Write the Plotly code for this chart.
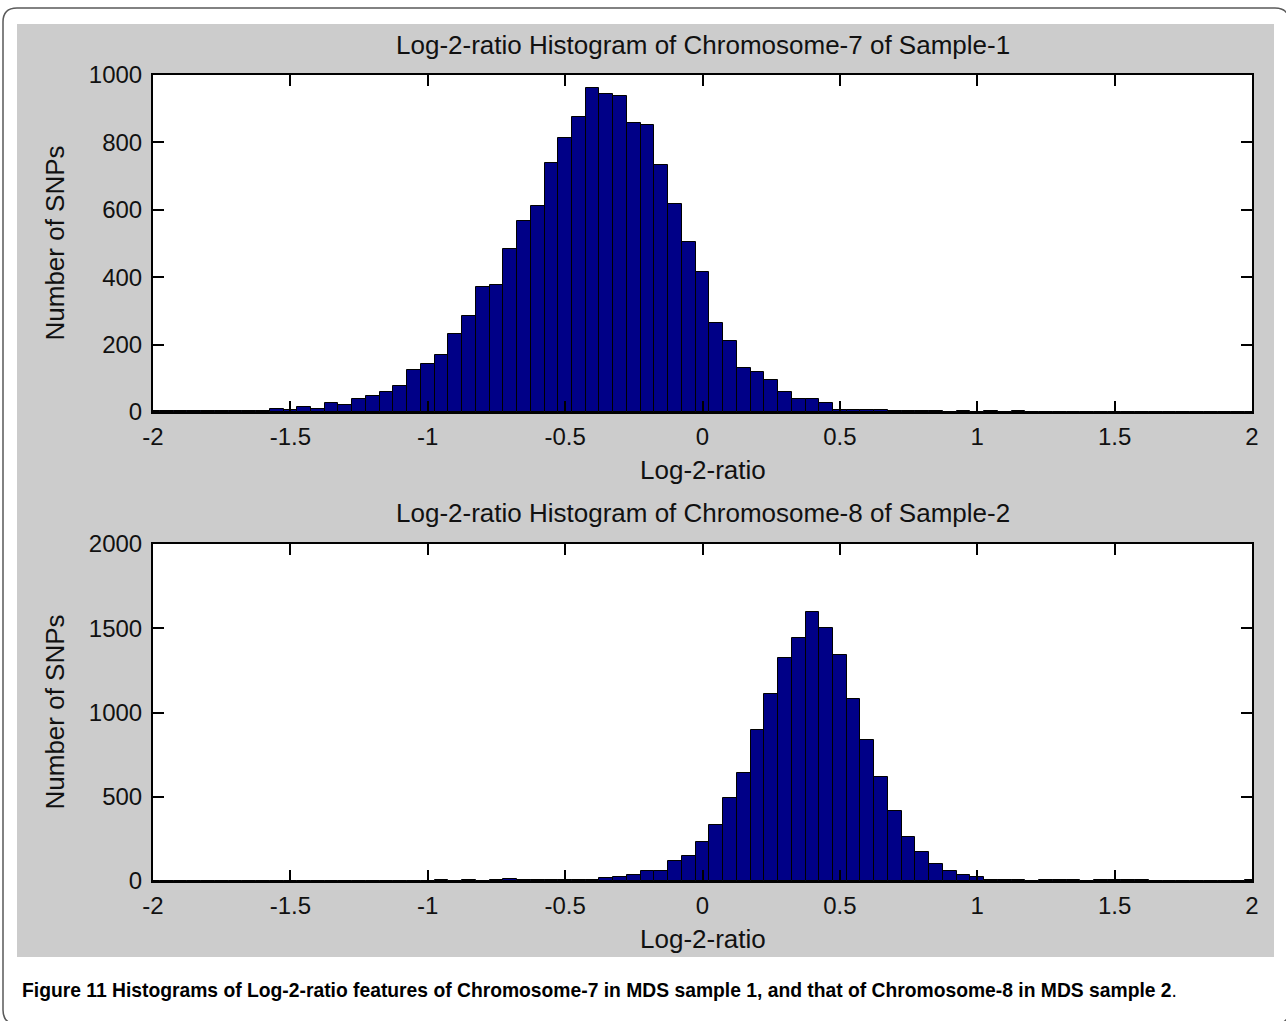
import numpy as np
import plotly.graph_objects as go

# ---------------- data ----------------
bin_centers = np.round(np.arange(-2.0, 2.0001, 0.05), 2)  # histogram bin centres (bin width 0.05)

counts_chr7_sample1 = [
    3, 3, 2, 3, 3, 2, 4, 3, 4, 10,            # -2.00 .. -1.55
    5, 15, 10, 28, 22, 40, 47, 59, 76, 126,   # -1.50 .. -1.05
    141, 169, 231, 286, 371, 378, 483, 568, 611, 740,  # -1.00 .. -0.55
    814, 874, 960, 943, 938, 858, 851, 733, 617, 505,  # -0.50 .. -0.05
    415, 265, 210, 132, 119, 94, 58, 38, 38, 27,       # 0.00 .. 0.45
    7, 7, 7, 5, 3, 2, 2, 2, 0, 4,              # 0.50 .. 0.95
    1, 4, 0, 4, 0, 0, 0, 0, 0, 0,              # 1.00 .. 1.45
    0, 0, 0, 0, 0, 0, 0, 0, 0, 0,              # 1.50 .. 1.95
    0,                                         # 2.00
]

counts_chr8_sample2 = [
    0, 0, 0, 0, 0, 0, 0, 0, 0, 0,              # -2.00 .. -1.55
    0, 0, 0, 0, 0, 0, 0, 0, 0, 0,              # -1.50 .. -1.05
    0, 7, 0, 6, 0, 8, 10, 3, 6, 6,             # -1.00 .. -0.55
    6, 6, 6, 20, 22, 36, 60, 62, 120, 148,     # -0.50 .. -0.05
    233, 332, 490, 639, 896, 1108, 1325, 1441, 1598, 1500,  # 0.00 .. 0.45
    1341, 1080, 837, 615, 417, 259, 170, 100, 61, 36,       # 0.50 .. 0.95
    22, 8, 8, 8, 1, 7, 7, 7, 1, 6,             # 1.00 .. 1.45
    6, 6, 6, 0, 0, 0, 0, 0, 0, 0,              # 1.50 .. 1.95
    8,                                         # 2.00
]

x_tickvals = [-2, -1.5, -1, -0.5, 0, 0.5, 1, 1.5, 2]
x_ticktext = ["-2", "-1.5", "-1", "-0.5", "0", "0.5", "1", "1.5", "2"]
y1_tickvals = [0, 200, 400, 600, 800, 1000]
y2_tickvals = [0, 500, 1000, 1500, 2000]

title_top = "Log-2-ratio Histogram of Chromosome-7 of Sample-1"
title_bottom = "Log-2-ratio Histogram of Chromosome-8 of Sample-2"
x_title = "Log-2-ratio"
y_title = "Number of SNPs"
caption_bold = ("Figure 11 Histograms of Log-2-ratio features of Chromosome-7 in MDS sample 1, "
                "and that of Chromosome-8 in MDS sample 2")

# ---------------- layout geometry (pixels) ----------------
W, H = 1286, 1021


def px(x):
    return x / W


def py(y):
    return 1 - y / H


PLOT_L, PLOT_R = 153, 1252
TOP_T, TOP_B = 75, 412
BOT_T, BOT_B = 544, 881

BAR_COLOR = "rgb(0,0,135)"
FONT = "Liberation Sans, Arial, sans-serif"

fig = go.Figure()
for counts, xa, ya in [(counts_chr7_sample1, "x", "y"), (counts_chr8_sample2, "x2", "y2")]:
    fig.add_trace(go.Bar(
        x=bin_centers, y=counts, width=0.05, xaxis=xa, yaxis=ya,
        marker=dict(color=BAR_COLOR, line=dict(color="black", width=1)),
        showlegend=False,
    ))

axis_common = dict(
    showline=True, linecolor="black", linewidth=2, mirror="allticks",
    ticks="inside", ticklen=11, tickwidth=2, tickcolor="black",
    showgrid=False, zeroline=False, automargin=False,
    tickfont=dict(family=FONT, size=24, color="#111"),
)

fig.update_layout(
    width=W, height=H,
    margin=dict(l=0, r=0, t=0, b=0, pad=0),
    paper_bgcolor="white", plot_bgcolor="white",
    bargap=0,
    xaxis=dict(domain=[px(PLOT_L), px(PLOT_R)], range=[-2, 2], anchor="y",
               tickvals=x_tickvals, ticktext=x_ticktext, ticklabelstandoff=2, **axis_common),
    yaxis=dict(domain=[py(TOP_B), py(TOP_T)], range=[0, 1000], anchor="x",
               tickvals=y1_tickvals, ticklabelstandoff=4, **axis_common),
    xaxis2=dict(domain=[px(PLOT_L), px(PLOT_R)], range=[-2, 2], anchor="y2",
                tickvals=x_tickvals, ticktext=x_ticktext, ticklabelstandoff=2, **axis_common),
    yaxis2=dict(domain=[py(BOT_B), py(BOT_T)], range=[0, 2000], anchor="x2",
                tickvals=y2_tickvals, ticklabelstandoff=4, **axis_common),
)

# grey figure background and white plot areas
shapes = [
    dict(type="rect", xref="paper", yref="paper", layer="below",
         x0=px(17), x1=px(1274), y0=py(957), y1=py(24),
         fillcolor="rgb(204,204,204)", line=dict(width=0)),
    dict(type="rect", xref="paper", yref="paper", layer="below",
         x0=px(PLOT_L), x1=px(PLOT_R), y0=py(TOP_B), y1=py(TOP_T),
         fillcolor="white", line=dict(width=0)),
    dict(type="rect", xref="paper", yref="paper", layer="below",
         x0=px(PLOT_L), x1=px(PLOT_R), y0=py(BOT_B), y1=py(BOT_T),
         fillcolor="white", line=dict(width=0)),
]
# rounded outer frame
L, T, R, B, r = 3, 8, 1289, 1024, 14
path = (f"M {px(L + r)},{py(T)} L {px(R - r)},{py(T)} Q {px(R)},{py(T)} {px(R)},{py(T + r)} "
        f"L {px(R)},{py(B - r)} Q {px(R)},{py(B)} {px(R - r)},{py(B)} "
        f"L {px(L + r)},{py(B)} Q {px(L)},{py(B)} {px(L)},{py(B - r)} "
        f"L {px(L)},{py(T + r)} Q {px(L)},{py(T)} {px(L + r)},{py(T)} Z")
shapes.append(dict(type="path", xref="paper", yref="paper", path=path,
                   line=dict(color="rgb(90,90,90)", width=1.5), layer="below"))
fig.update_layout(shapes=shapes)

text_font = dict(family=FONT, size=26, color="#111")
cx = px((PLOT_L + PLOT_R) / 2)
annotations = [
    dict(text=title_top, x=cx, y=py(45), xref="paper", yref="paper",
         showarrow=False, xanchor="center", yanchor="middle", font=text_font),
    dict(text=title_bottom, x=cx, y=py(513), xref="paper", yref="paper",
         showarrow=False, xanchor="center", yanchor="middle", font=text_font),
    dict(text=x_title, x=cx, y=py(470), xref="paper", yref="paper",
         showarrow=False, xanchor="center", yanchor="middle", font=text_font),
    dict(text=x_title, x=cx, y=py(939), xref="paper", yref="paper",
         showarrow=False, xanchor="center", yanchor="middle", font=text_font),
    dict(text=y_title, x=px(54), y=py((TOP_T + TOP_B) / 2), xref="paper", yref="paper",
         showarrow=False, xanchor="center", yanchor="middle", textangle=-90, font=text_font),
    dict(text=y_title, x=px(54), y=py((BOT_T + BOT_B) / 2), xref="paper", yref="paper",
         showarrow=False, xanchor="center", yanchor="middle", textangle=-90, font=text_font),
    dict(text=f"<b>{caption_bold}</b>.", x=px(20), y=py(990), xref="paper", yref="paper",
         showarrow=False, xanchor="left", yanchor="middle",
         font=dict(family=FONT, size=19.3, color="black")),
]
fig.update_layout(annotations=annotations)

fig.write_html("out.html")
